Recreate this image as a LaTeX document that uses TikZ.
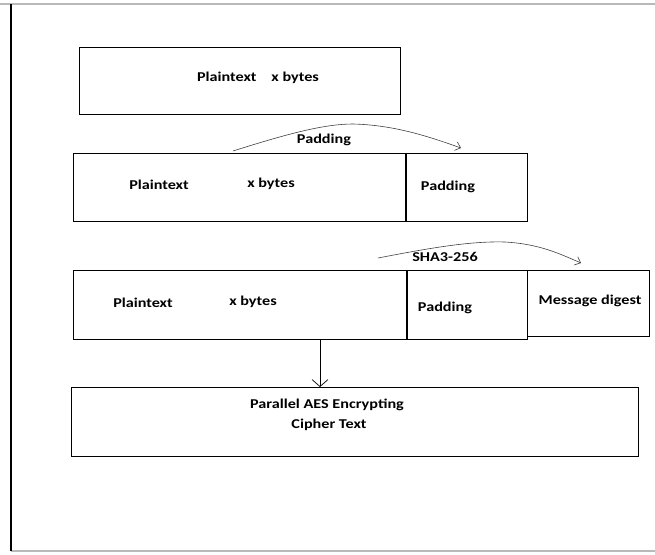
\documentclass[tikz,border=0pt]{standalone}
\usepackage{fontspec}
\setmainfont{Carlito}[FakeStretch=1.2]
\usetikzlibrary{arrows.meta}
\begin{document}
\begin{tikzpicture}
	[x=1pt,y=-1pt,
	every node/.style={font=\fontsize{13.5}{20}\selectfont\bfseries},
	blk/.style={rectangle, draw=black, line width=0.8pt, inner sep=0pt, anchor=north west},
	lbl/.style={inner sep=0pt},
	arc/.style={draw=black!75, line width=0.6pt, -{Straight Barb[length=5pt,width=9pt]}}]
	\useasboundingbox (0,0) rectangle (655,554);
	% page frame
	\draw[gray!55, line width=2.2pt] (0,4) -- (655,4);
	\draw[gray!55, line width=2.2pt] (11,551) -- (655,551);
	\draw[black, line width=1.2pt] (11,4) -- (11,551);

	\node[blk, minimum width=321pt, minimum height=67pt] (b1) at (79,47) {};
	\node[blk, minimum width=333pt, minimum height=68pt] (b2) at (73,153) {};
	\node[blk, minimum width=121pt, minimum height=68pt] (p2) at (406,153) {};
	\node[blk, minimum width=334pt, minimum height=69pt] (b3) at (73,270) {};
	\node[blk, minimum width=120pt, minimum height=69pt] (p3) at (407,270) {};
	\node[blk, minimum width=122pt, minimum height=66pt] (m3) at (527,270) {};
	\node[blk, minimum width=567pt, minimum height=69pt] (b4) at (71,387) {};

	\node[lbl] (t1) at (258,78) {Plaintext\hspace{1.1em}x bytes};
	\node[lbl] (t2a) at (159,185) {Plaintext};
	\node[lbl] (t2b) at (271,184) {x bytes};
	\node[lbl] (t2c) at (448,187) {Padding};
	\node[lbl] (t3a) at (143,303) {Plaintext};
	\node[lbl] (t3b) at (253,302) {x bytes};
	\node[lbl] (t3c) at (445,308) {Padding};
	\node[lbl] (t3d) at (590,301) {Message digest};
	\node[lbl, align=center] (t4) at (327,415) {Parallel AES Encrypting\\\hspace{0.3em}Cipher Text};

	\node[lbl] (l1) at (324,140) {Padding};
	\node[lbl] (l2) at (445,257) {SHA3-256};

	% thick dividers
	\draw[line width=1.6pt] (p2.north west) -- (p2.south west);
	\draw[line width=1.6pt] (p3.north west) -- (p3.south west);

	\coordinate (a1) at (233,151);
	\coordinate (a2) at (461,148);
	\coordinate (s1) at (378,258);
	\coordinate (s2) at (581,263);
	\draw[arc] (a1) .. controls (290,133) and (325,124) .. (353,124) .. controls (395,125) and (430,137) .. (a2);
	\draw[arc] (s1) .. controls (430,248) and (470,241) .. (505,242) .. controls (540,244) and (560,254) .. (s2);

	\draw[line width=0.7pt, -{Straight Barb[length=7pt,width=16pt]}] (b3.south west -| 320,0) -- (b4.north west -| 320,0);
\end{tikzpicture}
\end{document}
